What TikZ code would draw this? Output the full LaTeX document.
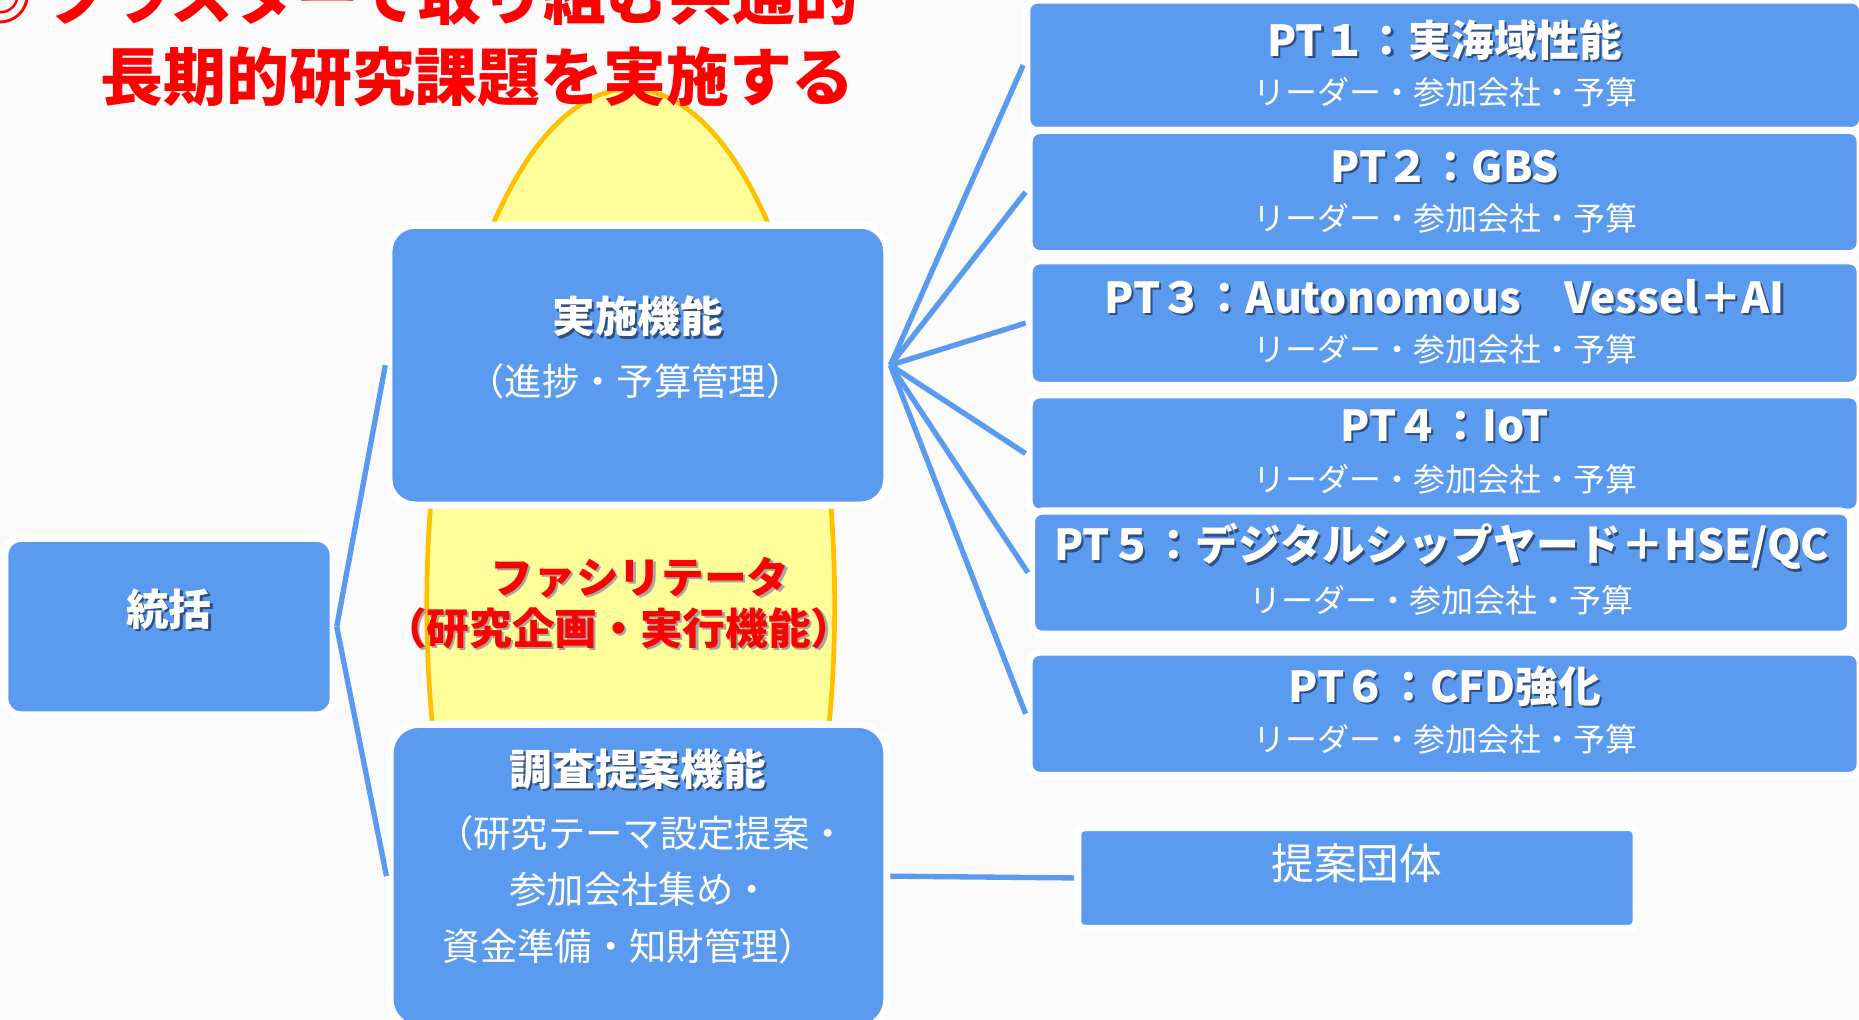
\documentclass[tikz,border=0pt]{standalone}
\usepackage{fontspec}
\usetikzlibrary{shapes.geometric}
\newfontfamily\jp{Noto Sans CJK JP}
\definecolor{boxblue}{RGB}{91,155,239}
\definecolor{ellfill}{RGB}{255,255,153}
\definecolor{elldraw}{RGB}{255,192,0}
\definecolor{shblue}{RGB}{48,78,128}
\definecolor{bgcol}{RGB}{250,250,250}
\newcommand\fs[1]{\fontsize{#1}{#1}\selectfont}
\newcommand\shd[2][shblue]{\makebox[0pt][l]{\kern1.8pt\raisebox{-1.8pt}{\textcolor{#1}{#2}}}#2}
\begin{document}
\begin{tikzpicture}[x=1pt,y=-1pt,
  box/.style={shape=rectangle, fill=boxblue, draw=white, line width=6pt, rounded corners=#1, inner sep=0pt},
  box/.default=10pt,
  conn/.style={draw=boxblue, line width=4.5pt},
  txt/.style={font=\jp, text=white, inner sep=0pt},
  bold36/.style={txt, font=\jp\bfseries\fs{36}},
  reg30/.style={txt, font=\jp\fs{31.5}},
  pttitle/.style={txt, font=\jp\bfseries\fs{36}},
  ptsub/.style={txt, font=\jp\fs{27}},
  redtxt/.style={inner sep=0pt, text=red, font=\jp\bfseries\fs{36}},
  title/.style={inner sep=0pt, text=red, font=\jp\bfseries\fs{53}}
]
\useasboundingbox (0,0) rectangle (1568,860);
\clip (0,0) rectangle (1568,860);
\fill[bgcol] (0,0) rectangle (1568,860);

% yellow ellipse behind
\node[ellipse, fill=ellfill, draw=elldraw, line width=4pt, minimum width=344pt, minimum height=870pt, inner sep=0pt] (ell) at (532,510) {};

% title
\node[title, anchor=east] (t1) at (724,-4) {◎ クラスターで取り組む共通的};
\node[title] (t2) at (403,65) {長期的研究課題を実施する};

% left boxes
\node[box=14pt, minimum width=277pt, minimum height=149pt] (tk) at (142.5,528.5) {};
\node[bold36] (tkT) at (142.5,515) {\shd{統括}};

\node[box=22pt, minimum width=420pt, minimum height=236pt] (js) at (538,308) {};
\node[bold36] (jsT) at (538,268) {\shd{実施機能}};
\node[reg30] (jsS) at (536,322) {（進捗・予算管理）};

\node[box=24pt, minimum width=419pt, minimum height=256pt] (ch) at (538.5,739) {};
\node[bold36] (chT) at (538,650) {\shd{調査提案機能}};
\node[reg30] (chS1) at (541,703) {（研究テーマ設定提案・};
\node[reg30] (chS2) at (540,750) {参加会社集め・};
\node[reg30] (chS3) at (531,798) {資金準備・知財管理）};

% facilitator text
\node[redtxt] (f1) at (540,488) {\shd[gray!70]{ファシリテータ}};
\node[redtxt] (f2) at (522,531) {\shd[gray!70]{（研究企画・実行機能）}};

% PT boxes
\node[box=9pt, minimum width=705pt, minimum height=110pt] (pt1) at (1218.5,55) {};
\node[pttitle] (pt1T) at (1218.5,35) {\shd{PT１：実海域性能}};
\node[ptsub] (pt1S) at (1219,78) {リーダー・参加会社・予算};

\node[box=9pt, minimum width=701pt, minimum height=104pt] (pt2) at (1218.5,162) {};
\node[pttitle] (pt2T) at (1218.5,141) {\shd{PT２：GBS}};
\node[ptsub] (pt2S) at (1219,184) {リーダー・参加会社・予算};

\node[box=9pt, minimum width=701pt, minimum height=105pt] (pt3) at (1218.5,272.5) {};
\node[pttitle] (pt3T) at (1218.5,251) {\shd{PT３：Autonomous　Vessel＋AI}};
\node[ptsub] (pt3S) at (1219,295) {リーダー・参加会社・予算};

\node[box=9pt, minimum width=701pt, minimum height=99pt] (pt4) at (1218.5,382.5) {};
\node[pttitle] (pt4T) at (1218.5,360) {\shd{PT４：IoT}};
\node[ptsub] (pt4S) at (1219,404) {リーダー・参加会社・予算};

\node[box=9pt, minimum width=691pt, minimum height=104pt] (pt5) at (1215.5,483) {};
\node[pttitle] (pt5T) at (1216,462) {\shd{PT５：デジタルシップヤード＋HSE/QC}};
\node[ptsub] (pt5S) at (1216,506) {リーダー・参加会社・予算};

\node[box=9pt, minimum width=701pt, minimum height=104pt] (pt6) at (1218.5,602) {};
\node[pttitle] (pt6T) at (1218.5,580) {\shd{PT６：CFD強化}};
\node[ptsub] (pt6S) at (1219,624) {リーダー・参加会社・予算};

\node[box=6pt, minimum width=471pt, minimum height=85pt] (ta) at (1144.5,740.5) {};
\node[txt, font=\jp\fs{36}] (taT) at (1144.5,728) {提案団体};

% connectors
\draw[conn] (tk.east) -- (js.west);
\draw[conn] (tk.east) -- (ch.west);
\foreach \p in {pt1,pt2,pt3,pt4,pt5,pt6} \draw[conn] (js.east) -- (\p.west);
\draw[conn] (ch.east) -- (ta.west);
\end{tikzpicture}
\end{document}
